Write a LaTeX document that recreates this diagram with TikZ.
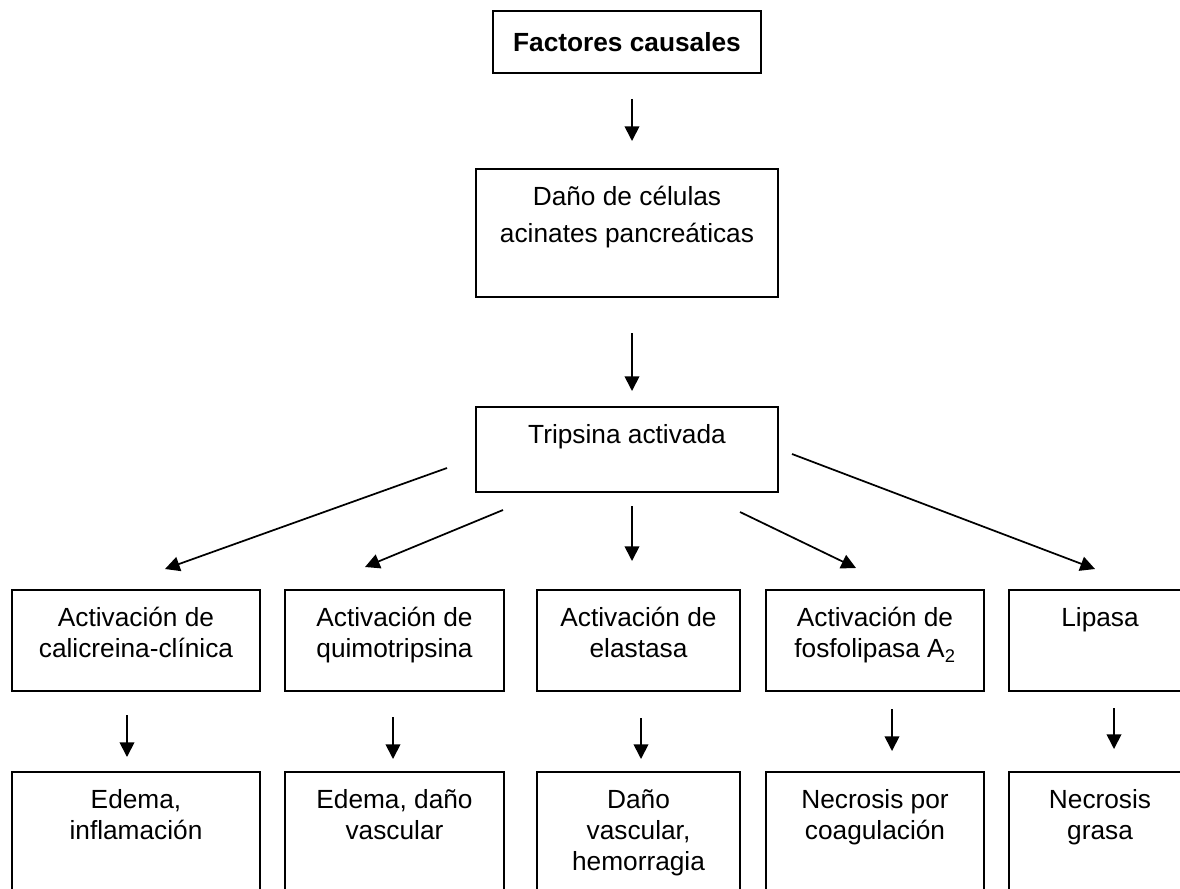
\documentclass[tikz,border=0pt]{standalone}
\usepackage{fontspec}
\setmainfont{Liberation Sans}
\usetikzlibrary{arrows.meta}

\tikzset{
  caja/.style={draw,line width=1.5pt,inner sep=0pt},
  fila/.style={caja,minimum height=75.75pt},
  efecto/.style={caja,minimum height=103.5pt},
  texto/.style={font=\fontsize{19.7}{23.5}\selectfont,align=center,inner sep=0pt,anchor=north,yshift=-13.5pt},
  flecha/.style={line width=1.3pt,-{Triangle[length=11pt,width=11pt]}},
}

\begin{document}
\begin{tikzpicture}[x=0.75pt,y=-0.75pt]
  \useasboundingbox (0,0) rectangle (1180,888);
  \clip (0,0) rectangle (1180,888);
  % columna central
  \node[caja,minimum width=201pt,minimum height=46.5pt,font=\fontsize{19.7}{23.5}\selectfont\bfseries] (fact) at (627,42) {Factores causales};
  \node[caja,minimum width=226.5pt,minimum height=96pt,
    label={[texto,font=\fontsize{19.7}{27.75}\selectfont]north:{Daño de células\\acinates pancreáticas}}] (dano) at (627,233) {};
  \node[caja,minimum width=226.5pt,minimum height=63.75pt,label={[texto]north:Tripsina activada}] (trip) at (627,449.5) {};
  % enzimas
  \node[fila,minimum width=186pt,label={[texto]north:{Activación de\\calicreina-clínica}}] (cal) at (136,640.5) {};
  \node[fila,minimum width=164.25pt,label={[texto]north:{Activación de\\quimotripsina}}] (qui) at (394.5,640.5) {};
  \node[fila,minimum width=152.25pt,label={[texto]north:{Activación de\\elastasa}}] (ela) at (638.5,640.5) {};
  \node[fila,minimum width=163.5pt,label={[texto]north:{Activación de\\fosfolipasa A\textsubscript{2}}}] (fos) at (875,640.5) {};
  \node[fila,minimum width=136.5pt,label={[texto]north:Lipasa}] (lip) at (1100,640.5) {};
  % efectos
  \node[efecto,minimum width=186pt,label={[texto]north:{Edema,\\inflamación}}] (ede) at (136,841) {};
  \node[efecto,minimum width=164.25pt,label={[texto]north:{Edema, daño\\vascular}}] (vas) at (394.5,841) {};
  \node[efecto,minimum width=152.25pt,label={[texto]north:{Daño\\vascular,\\hemorragia}}] (hem) at (638.5,841) {};
  \node[efecto,minimum width=163.5pt,label={[texto]north:{Necrosis por\\coagulación}}] (nec) at (875,841) {};
  \node[efecto,minimum width=136.5pt,label={[texto]north:{Necrosis\\grasa}}] (gra) at (1100,841) {};

  \draw[flecha,shorten <=18.75pt,shorten >=20.25pt] ([xshift=3.75pt]fact.south) -- ([xshift=3.75pt]dano.north);
  \draw[flecha,shorten <=26.25pt,shorten >=11.25pt] ([xshift=3.75pt]dano.south) -- ([xshift=3.75pt]trip.north);

  \coordinate (sCal) at (447,468);
  \coordinate (pCal) at (165,569);
  \coordinate (sQui) at (503,510);
  \coordinate (pQui) at (365,567);
  \coordinate (sFos) at (740,512);
  \coordinate (pFos) at (856,568);
  \coordinate (sLip) at (792,454);
  \coordinate (pLip) at (1095,569);
  \draw[flecha] (sCal) -- (pCal);
  \draw[flecha] (sQui) -- (pQui);
  \draw[flecha,shorten <=9.75pt,shorten >=21pt] ([xshift=3.75pt]trip.south) -- ([xshift=3.75pt]trip.south |- ela.north);
  \draw[flecha] (sFos) -- (pFos);
  \draw[flecha] (sLip) -- (pLip);

  \foreach \a/\b/\dx/\s/\e in {cal/ede/-6.75/17.25/10.5, qui/vas/-1.125/18.75/9,
      ela/hem/1.875/19.5/9, fos/nec/12.75/12.75/15, lip/gra/10.5/12/16.5}
    \draw[flecha,shorten <=\s pt,shorten >=\e pt] ([xshift=\dx pt]\a.south) -- ([xshift=\dx pt]\a.south |- \b.north);
\end{tikzpicture}
\end{document}
